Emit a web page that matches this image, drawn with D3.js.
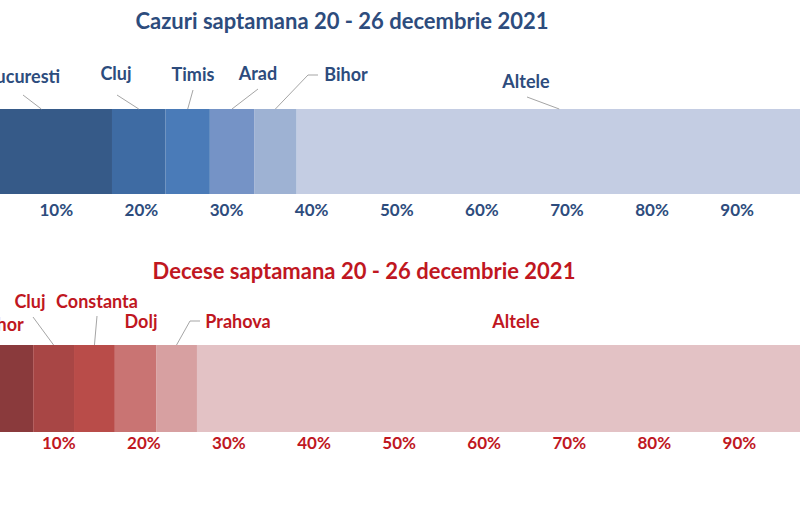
<!DOCTYPE html>
<html><head><meta charset="utf-8">
<script src="https://cdn.jsdelivr.net/npm/d3@7"></script>
<style>
html,body{margin:0;padding:0;background:#fff;}
svg{display:block;}
text{font-family:Lato,"Open Sans",sans-serif;font-weight:bold;}
</style></head>
<body>
<svg id="chart" width="800" height="509"></svg>
<script>
// ---------- DATA ----------
const casesTitle = "Cazuri saptamana 20 - 26 decembrie 2021";
const casesCounties = ["Bucuresti","Cluj","Timis","Arad","Bihor","Altele"];
const casesShares = [16.6, 6.3, 5.2, 5.2, 5.0, 61.7];

const deathsTitle = "Decese saptamana 20 - 26 decembrie 2021";
const deathsCounties = ["Bihor","Cluj","Constanta","Dolj","Prahova","Altele"];
const deathsShares = [7.05, 4.8, 4.8, 4.85, 4.8, 73.7];

const tickValues = [0.1,0.2,0.3,0.4,0.5,0.6,0.7,0.8,0.9];

// ---------- STYLE / LAYOUT ----------
const casesColors = ["#365a88","#3e6ba3","#4a7bb8","#7593c6","#9eb2d3","#c4cde3"];
const deathsColors = ["#8a3a3c","#a84645","#b94c49","#c97473","#d7a0a1","#e3c2c5"];

const panels = [
  {title:casesTitle, counties:casesCounties, shares:casesShares, colors:casesColors,
   textColor:"#2d4c7d", range:[-29.3,821.8], titleX:342, titleY:29,
   barTop:109, barBottom:194, tickY:216,
   labels:[
     {x:22,  y:83, leader:[[23,95]]},
     {x:116, y:80, leader:[[117,95]]},
     {x:193, y:81, leader:[[193,90]]},
     {x:258, y:80, leader:[[258,89]]},
     {x:346, y:81, leader:[[318,75],[308,75]]},
     {x:526, y:88, leader:[[527,97]]}
   ]},
  {title:deathsTitle, counties:deathsCounties, shares:deathsShares, colors:deathsColors,
   textColor:"#c0171f", range:[-26.8,824], titleX:364, titleY:279,
   barTop:345, barBottom:432, tickY:449,
   labels:[
     {x:2,   y:331, leader:null},
     {x:30,  y:308, leader:[[33,317]]},
     {x:97,  y:308, leader:[[97,316]]},
     {x:141, y:328, leader:null},
     {x:238, y:328, leader:[[200,321],[190,321]]},
     {x:516, y:328, leader:null}
   ]}
];

const svg = d3.select("#chart");

panels.forEach(p => {
  const x = d3.scaleLinear().domain([0,1]).range(p.range);
  const g = svg.append("g");

  // cumulative stacking
  let acc = 0;
  const segs = p.shares.map((v,i) => {
    const s = {name:p.counties[i], x0:acc/100, x1:(acc+v)/100, color:p.colors[i], label:p.labels[i]};
    acc += v;
    return s;
  });

  g.selectAll("rect.seg").data(segs).join("rect")
    .attr("class","seg")
    .attr("x", d => x(d.x0))
    .attr("width", d => x(d.x1) - x(d.x0))
    .attr("y", p.barTop)
    .attr("height", p.barBottom - p.barTop)
    .attr("fill", d => d.color);

  // leader lines
  const line = d3.line();
  segs.forEach(d => {
    if (!d.label.leader) return;
    const pts = d.label.leader.concat([[x((d.x0+d.x1)/2), p.barTop]]);
    g.append("path").attr("d", line(pts))
      .attr("fill","none").attr("stroke","#a5a5a5").attr("stroke-width",1);
  });

  // labels
  g.selectAll("text.lab").data(segs).join("text")
    .attr("class","lab")
    .attr("x", d => d.label.x).attr("y", d => d.label.y)
    .attr("text-anchor","middle")
    .attr("font-size",18)
    .attr("fill", p.textColor)
    .text(d => d.name);

  // title
  g.append("text").attr("x",p.titleX).attr("y",p.titleY)
    .attr("text-anchor","middle").attr("font-size",22)
    .attr("fill",p.textColor).text(p.title);

  // axis
  const axis = d3.axisBottom(x).tickValues(tickValues).tickSize(0).tickPadding(0)
    .tickFormat(d3.format(".0%"));
  const ag = g.append("g").attr("transform",`translate(0,${p.tickY})`).call(axis);
  ag.select(".domain").remove();
  ag.selectAll("text").attr("dy",0).attr("y",0)
    .attr("font-family","Lato,'Open Sans',sans-serif").attr("font-weight","bold")
    .attr("font-size",17).attr("fill",p.textColor);
});
</script>
</body></html>
